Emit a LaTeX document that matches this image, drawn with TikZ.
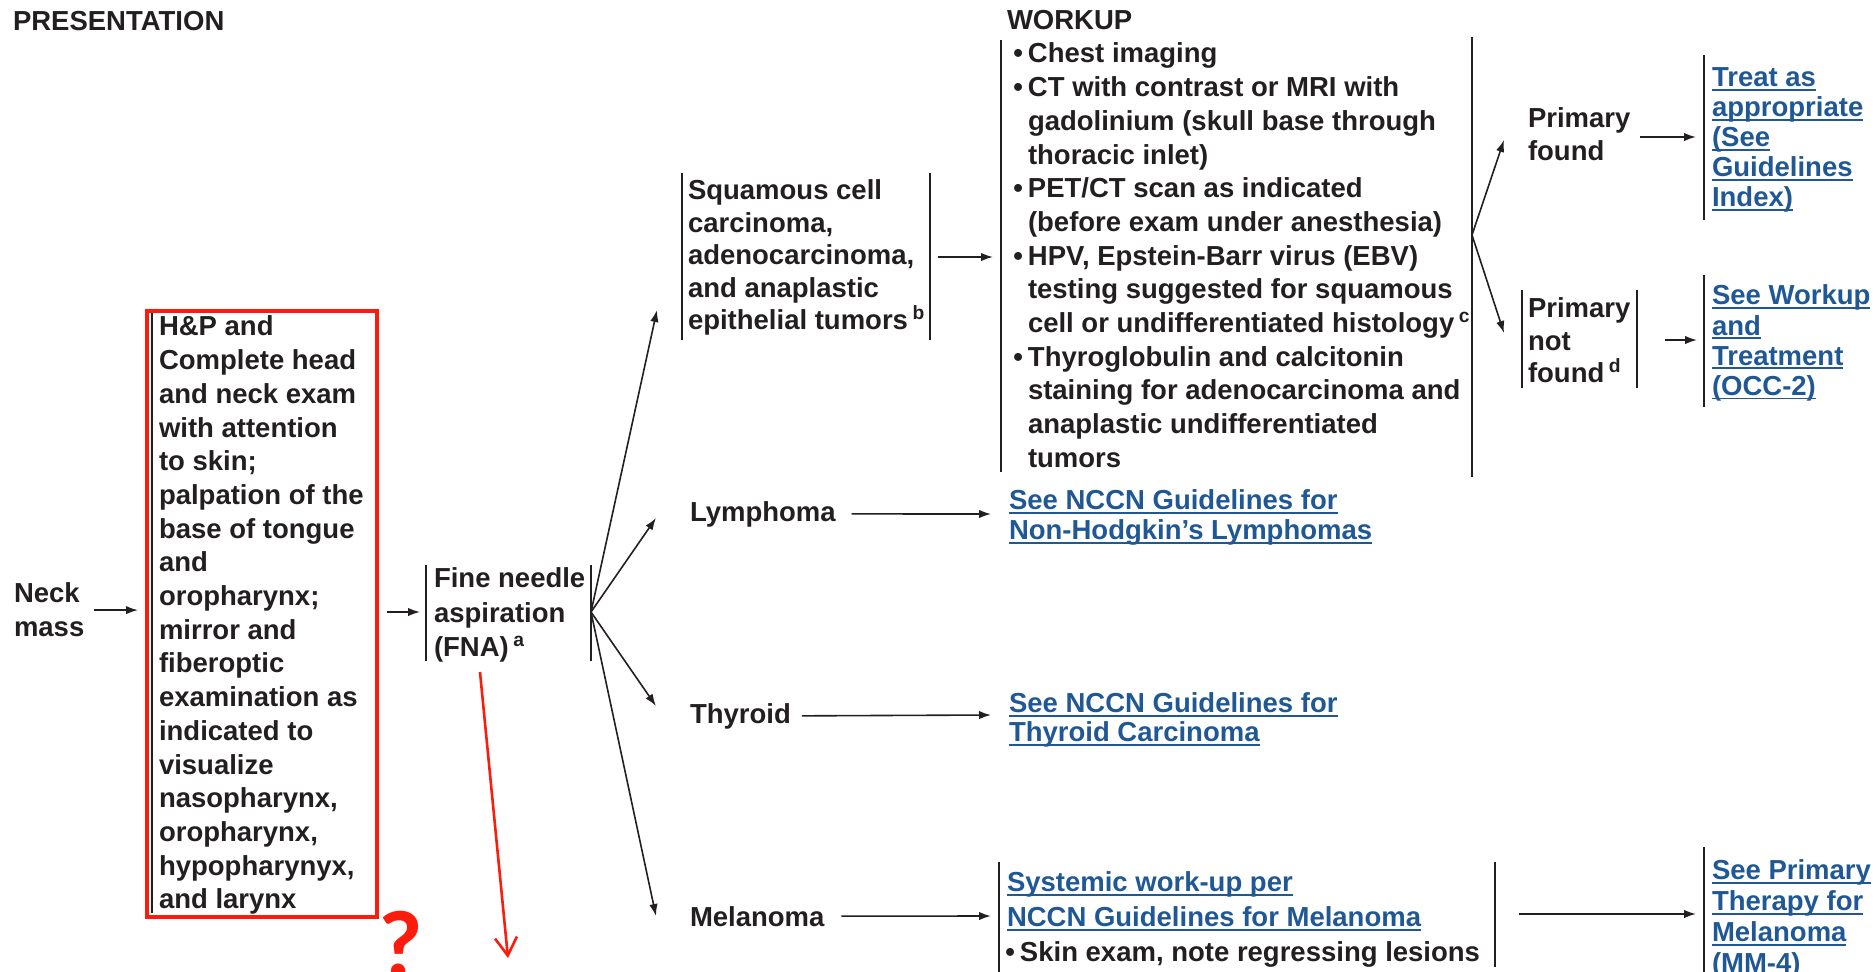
\documentclass[tikz,border=0pt]{standalone}
\usepackage{fontspec}
\setmainfont{Liberation Sans}
\newfontfamily\qfont{Carlito}
\usetikzlibrary{arrows.meta}
\definecolor{ink}{RGB}{35,31,32}
\definecolor{linkblue}{RGB}{32,88,150}
\definecolor{mark}{RGB}{252,28,12}
\newsavebox\lkbox
\newcommand\lk[1]{\sbox\lkbox{#1}\rlap{\rule[-0.13em]{\wd\lkbox}{0.065em}}\usebox\lkbox}
\newcommand\bul{\llap{\textbullet\hspace{2.5pt}}}
\begin{document}
\begin{tikzpicture}[x=0.5pt,y=-0.5pt,
  base/.style={inner sep=0pt, outer sep=0pt, text=ink, align=left},
  txt/.style={base, anchor=north west, font=\fontsize{13.75}{#1}\selectfont\bfseries},
  txt/.default=16.85,
  one/.style={base, anchor=base west, font=\fontsize{13.75}{16}\selectfont\bfseries},
  link/.style={txt=#1, text=linkblue},
  link/.default=15,
  bar/.style={draw=ink, line width=1pt},
  arr/.style={draw=ink, line width=0.8pt, -{Latex[length=6pt,width=4.2pt]}},
  redline/.style={draw=mark, line width=1.3pt, -{Straight Barb[length=9pt,width=11pt,line width=1.3pt]}},
]
\useasboundingbox (0,0) rectangle (1876,971);
% headers
\node[one] (pres) at (13,30) {PRESENTATION};
\node[one] (wkh) at (1007,29) {WORKUP};
% left column
\node[txt=17] (neck) at (14,583) {Neck\\mass};
\node[txt=16.85] (hp) at (159,316) {H\&P and\\Complete head\\and neck exam\\with attention\\to skin;\\palpation of the\\base of tongue\\and\\oropharynx;\\mirror and\\fiberoptic\\examination as\\indicated to\\visualize\\nasopharynx,\\oropharynx,\\hypopharynyx,\\and larynx};
\draw[bar] (152,311) -- (152,913);
\node[txt=17.2] (fna) at (434,568) {Fine needle\\aspiration\\(FNA)\,\textsuperscript{a}};
\draw[bar] (426,565) -- (426,661);
\draw[bar] (591,565) -- (591,661);
% squamous
\node[txt=16.25] (sq) at (688,180) {Squamous cell\\carcinoma,\\adenocarcinoma,\\and anaplastic\\epithelial tumors\,\textsuperscript{b}};
\draw[bar] (682,173) -- (682,340);
\draw[bar] (930,173) -- (930,340);
% workup
\node[txt=16.85] (wk) at (1028,43) {\bul Chest imaging\\\bul CT with contrast or MRI with\\gadolinium (skull base through\\thoracic inlet)\\\bul PET/CT scan as indicated\\(before exam under anesthesia)\\\bul HPV, Epstein-Barr virus (EBV)\\testing suggested for squamous\\cell or undifferentiated histology\,\textsuperscript{c}\\\bul Thyroglobulin and calcitonin\\staining for adenocarcinoma and\\anaplastic undifferentiated\\tumors};
\draw[bar] (1001,40) -- (1001,472);
\draw[bar] (1472,37) -- (1472,477);
% primary found / not found
\node[txt=16.5] (pf) at (1528,108) {Primary\\found};
\node[link=15] (treat) at (1712,68) {\lk{Treat as}\\\lk{appropriate}\\\lk{(See}\\\lk{Guidelines}\\\lk{Index)}};
\draw[bar] (1704,55) -- (1704,220);
\node[txt=16.25] (pnf) at (1528,298) {Primary\\not\\found\,\textsuperscript{d}};
\draw[bar] (1522,290) -- (1522,388);
\draw[bar] (1637,290) -- (1637,388);
\node[link=15.15] (seewk) at (1712,285) {\lk{See Workup}\\\lk{and}\\\lk{Treatment}\\\lk{(OCC-2)}};
\draw[bar] (1704,275) -- (1704,407);
% other histologies
\node[one] (lym) at (690,521) {Lymphoma};
\node[link=15] (lymlink) at (1009,490) {\lk{See NCCN Guidelines for}\\\lk{Non-Hodgkin's Lymphomas}};
\node[one] (thy) at (690,723) {Thyroid};
\node[link=14.5] (thylink) at (1009,693) {\lk{See NCCN Guidelines for}\\\lk{Thyroid Carcinoma}};
\node[one] (mel) at (690,926) {Melanoma};
\node[link=17.5] (melbox) at (1007,872) {\lk{Systemic work-up per}\\\lk{NCCN Guidelines for Melanoma}\\\hspace*{6.5pt}{\color{ink}\bul Skin exam, note regressing lesions}};
\draw[bar] (999,862) -- (999,975);
\draw[bar] (1495,862) -- (1495,967);
\node[link=15.5] (seeprim) at (1712,860) {\lk{See Primary}\\\lk{Therapy for}\\\lk{Melanoma}\\\lk{(MM-4)}};
\draw[bar] (1704,847) -- (1704,975);
% red annotation
\node[draw=mark, line width=2pt, minimum width=115pt, minimum height=303pt, inner sep=0pt, anchor=north west] (hpbox) at (145,309) {};
\node[anchor=north west, inner sep=0pt, text=mark, font=\qfont\bfseries\fontsize{48}{48}\selectfont] (qm) at (378,911) {?};
% coordinates
\coordinate (fnaL) at (426,612);
\coordinate (fnaR) at (591,612);
\coordinate (tipSq) at (657,310);
\coordinate (tipLym) at (656,518);
\coordinate (tipThy) at (656,706);
\coordinate (tipMel) at (656,916);
\coordinate (lymIn) at (991,514);
\coordinate (thyIn) at (991,715);
\coordinate (melIn) at (991,916);
\coordinate (sqR) at (930,257);
\coordinate (wkL) at (1001,257);
\coordinate (wkR) at (1472,235);
\coordinate (tipPf) at (1504,140);
\coordinate (tipPnf) at (1504,333);
\coordinate (treatL) at (1704,137);
\coordinate (pnfR) at (1637,340);
\coordinate (seewkL) at (1704,340);
\coordinate (melR) at (1495,914);
\coordinate (seeprimL) at (1704,914);
\coordinate (redS) at (480,672);
\coordinate (redE) at (508,958);
% connectors
\draw[arr, shorten <=5pt, shorten >=3.5pt] (neck.east) -- (neck.east -| hpbox.west);
\draw[arr, shorten <=4pt, shorten >=3pt] (hpbox.east |- fnaL) -- (fnaL);
\draw[arr] (fnaR) -- (tipSq);
\draw[arr] (fnaR) -- (tipLym);
\draw[arr] (fnaR) -- (tipThy);
\draw[arr] (fnaR) -- (tipMel);
\draw[arr, shorten <=8pt] (lym.east) -- (lymIn);
\draw[arr, shorten <=5.5pt] (thy.east) -- (thyIn);
\draw[arr, shorten <=8.5pt] (mel.east) -- (melIn);
\draw[arr, shorten <=4pt, shorten >=4pt] (sqR) -- (wkL);
\draw[arr] (wkR) -- (tipPf);
\draw[arr] (wkR) -- (tipPnf);
\draw[arr, shorten <=5pt, shorten >=4pt] (pf.east |- treatL) -- (treatL);
\draw[arr, shorten <=14pt, shorten >=3.5pt] (pnfR) -- (seewkL);
\draw[arr, shorten <=12pt, shorten >=4pt] (melR) -- (seeprimL);
\draw[redline] (redS) -- (redE);
\end{tikzpicture}
\end{document}
